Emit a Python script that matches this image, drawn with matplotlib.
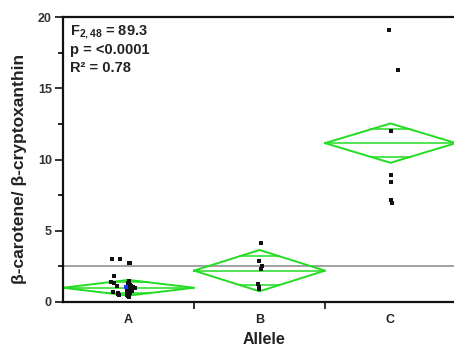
import matplotlib
matplotlib.use("Agg")
import matplotlib.pyplot as plt
import numpy as np

plt.rcParams['font.family'] = ['Liberation Sans', 'DejaVu Sans']
plt.rcParams['font.weight'] = 'bold'
plt.rcParams['mathtext.fontset'] = 'custom'
plt.rcParams['mathtext.rm'] = 'Liberation Sans:bold'
plt.rcParams['mathtext.it'] = 'Liberation Sans:bold'
plt.rcParams['mathtext.bf'] = 'Liberation Sans:bold'

# ---- data ----
categories = ["A", "B", "C"]
a_values = [3.05, 3.05, 2.75, 2.72, 1.85, 1.42, 1.3, 1.12, 0.72, 0.61, 0.55, 0.5,
            1.5, 1.45, 1.35, 1.2, 1.1, 1.05, 1.0, 0.95, 0.9, 0.88, 0.85, 0.82, 0.8,
            0.78, 0.75, 0.7, 0.68, 0.65, 0.6, 0.58, 0.55, 0.5, 0.48, 0.45, 0.42, 0.4, 0.37]
a_jitter = [-0.125, -0.063, 0.0, 0.01, -0.107, -0.13, -0.107, -0.09, -0.12, -0.08, -0.08, -0.07,
            0.0, 0.005, -0.005, 0.01, 0.02, 0.035, 0.05, 0.04, 0.02, 0.0, 0.01, -0.01, 0.005,
            0.03, 0.015, 0.0, -0.01, 0.01, 0.0, -0.005, 0.005, 0.0, -0.01, 0.0, 0.005, -0.005, 0.0]
b_values = [4.15, 2.85, 2.5, 2.3, 1.25, 1.07, 0.9]
b_jitter = [0.008, -0.005, 0.02, 0.008, -0.01, -0.005, -0.005]
c_values = [19.1, 16.3, 12.0, 8.9, 8.45, 7.15, 6.95]
c_jitter = [-0.015, 0.06, 0.005, 0.0, 0.0, 0.005, 0.01]
highlight_value = 1.07   # selected point in group A (blue)
highlight_jitter = -0.02

group_means = [1.0, 2.2, 11.15]
group_ci = [0.55, 1.45, 1.38]
grand_mean = 2.53

stats_lines = [r"F$_{\mathregular{2,48}}$ = 89.3", "p = <0.0001", "R² = 0.78"]

# ---- figure ----
fig = plt.figure(figsize=(4.54, 3.47), dpi=100)
ax = fig.add_axes([63 / 454, 45 / 347, 393 / 454, 285 / 347])
ax.set_xlim(0, 3)
ax.set_ylim(0, 20)

green = "#22dd22"
# grand mean line
ax.axhline(grand_mean, color="#9a9a9a", lw=1.3, zorder=1)

# means diamonds
for i, (m, h) in enumerate(zip(group_means, group_ci)):
    x0, x1, xc = i, i + 1, i + 0.5
    ax.plot([x0, xc, x1, xc, x0], [m, m + h, m, m - h, m], color=green, lw=1.4, zorder=2)
    ax.plot([x0, x1], [m, m], color=green, lw=1.1, zorder=2)
    d = h / np.sqrt(2)
    frac = 1 - 1 / np.sqrt(2)
    half = 0.5 * frac
    for yy in (m + d, m - d):
        ax.plot([xc - half, xc + half], [yy, yy], color=green, lw=1.1, zorder=2)

# points
for i, (vals, jit) in enumerate([(a_values, a_jitter), (b_values, b_jitter), (c_values, c_jitter)]):
    xs = [i + 0.5 + j for j in jit]
    ax.scatter(xs, vals, s=7, marker="s", color="#111111", linewidths=0, zorder=3)
ax.scatter([0.5 + highlight_jitter], [highlight_value], s=9, marker="s", color="#2233ee",
           linewidths=0, zorder=4)

# spines and ticks
for side in ["left", "bottom", "top"]:
    ax.spines[side].set_linewidth(1.6)
    ax.spines[side].set_color("#111111")
ax.spines["right"].set_visible(False)

ax.set_yticks([0, 5, 10, 15, 20])
ax.set_yticks(np.arange(2.5, 20, 5), minor=True)
ax.tick_params(axis="y", which="major", length=6, width=1.2, labelsize=9, pad=2, colors="#111111")
ax.tick_params(axis="y", which="minor", length=3.5, width=1.2)
ax.set_yticklabels(["0", "5", "10", "15", "20"], fontweight="bold", color="#333333")

ax.set_xticks([1, 2])
ax.set_xticklabels(["", ""])
ax.tick_params(axis="x", which="major", length=5, width=1.2, colors="#111111")
for i, c in enumerate(categories):
    fig.text((63 + 131 * (i + 0.5)) / 454, 1 - 320 / 347, c, ha="center", va="center",
             fontsize=9, fontweight="bold", color="#222222")

fig.text(264 / 454, 1 - 346.5 / 347, "Allele", ha="center", va="bottom", fontsize=11.5,
         fontweight="bold", color="#222222")
fig.text(20 / 454, 1 - 169 / 347, "β-carotene/ β-cryptoxanthin", rotation=90,
         ha="center", va="center", fontsize=12.5, fontweight="bold", color="#222222")

for k, line in enumerate(stats_lines):
    fig.text(70 / 454, 1 - (35 + 18.7 * k) / 347, line, ha="left", va="baseline",
             fontsize=10.5, fontweight="bold", color="#222222")

fig.savefig("out.png", dpi=100)
